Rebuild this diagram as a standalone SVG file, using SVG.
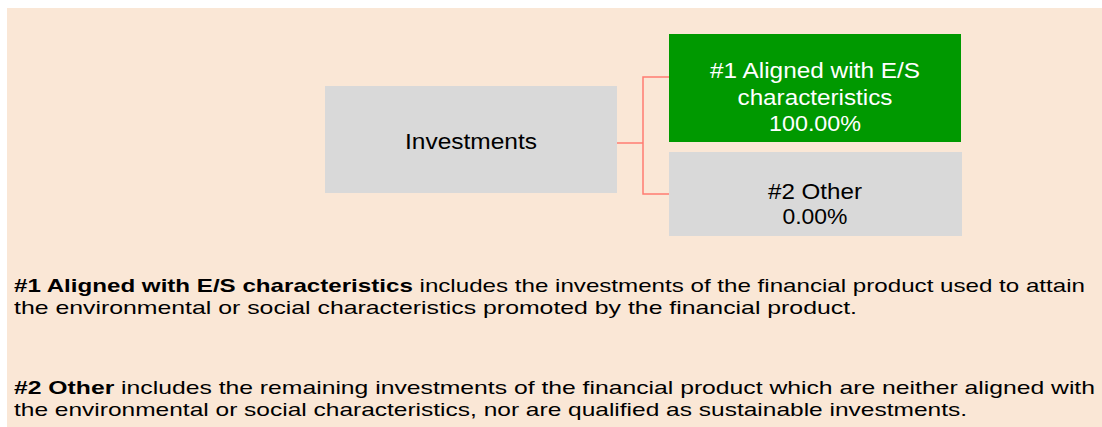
<svg xmlns="http://www.w3.org/2000/svg" width="1102" height="427" viewBox="0 0 1102 427">
<style>
.lbl{font-family:"Liberation Sans",Arial,sans-serif;font-size:22px;text-anchor:middle}
.para{font-family:"Liberation Sans",Arial,sans-serif;font-size:19px;fill:#000}
.b{font-weight:bold}
.conn{fill:none;stroke:#FF7C72;stroke-width:1.5}
</style>
<rect x="7" y="8" width="1095" height="419" fill="#FAE7D6"/>
<g id="connectors">
<polyline class="conn" points="617,143 643,143"/>
<polyline class="conn" points="669,77 643,77 643,194 669,194"/>
</g>
<g id="investments">
<rect x="325" y="86" width="292" height="107" fill="#D9D9D9"/>
<text class="lbl" x="471" y="149" fill="#000" textLength="132" lengthAdjust="spacingAndGlyphs">Investments</text>
</g>
<g id="aligned">
<rect x="669" y="34" width="292" height="108" fill="#009900"/>
<text class="lbl" fill="#FFF" x="815" y="78" textLength="210" lengthAdjust="spacingAndGlyphs">#1 Aligned with E/S</text>
<text class="lbl" fill="#FFF" x="815" y="105" textLength="155" lengthAdjust="spacingAndGlyphs">characteristics</text>
<text class="lbl" fill="#FFF" x="815" y="131" textLength="92" lengthAdjust="spacingAndGlyphs">100.00%</text>
</g>
<g id="other">
<rect x="669" y="152" width="293" height="84" fill="#D9D9D9"/>
<text class="lbl" fill="#000" x="815" y="199" textLength="94" lengthAdjust="spacingAndGlyphs">#2 Other</text>
<text class="lbl" fill="#000" x="815" y="224" textLength="65" lengthAdjust="spacingAndGlyphs">0.00%</text>
</g>
<g id="legend">
<text class="para" x="14" y="292" textLength="1071" lengthAdjust="spacingAndGlyphs"><tspan class="b">#1 Aligned with E/S characteristics</tspan> includes the investments of the financial product used to attain</text>
<text class="para" x="14" y="314" textLength="843" lengthAdjust="spacingAndGlyphs">the environmental or social characteristics promoted by the financial product.</text>
<text class="para" x="14" y="394" textLength="1081" lengthAdjust="spacingAndGlyphs"><tspan class="b">#2 Other</tspan> includes the remaining investments of the financial product which are neither aligned with</text>
<text class="para" x="14" y="416" textLength="953" lengthAdjust="spacingAndGlyphs">the environmental or social characteristics, nor are qualified as sustainable investments.</text>
</g>
</svg>
